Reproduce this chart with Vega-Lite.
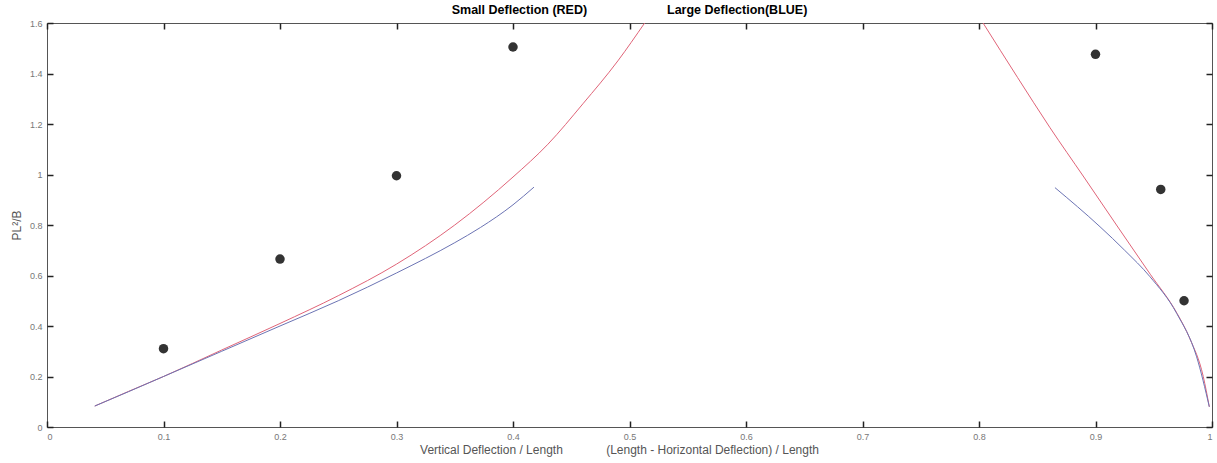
{
  "$schema": "https://vega.github.io/schema/vega-lite/v6.json",
  "width": 1165,
  "height": 404,
  "autosize": {"type": "none"},
  "padding": {"left": 47, "top": 23, "right": 5, "bottom": 36},
  "background": "white",
  "config": {
    "font": "Liberation Sans",
    "view": {"stroke": "#555", "strokeWidth": 1},
    "axis": {
      "grid": false,
      "domain": false,
      "ticks": true,
      "tickColor": "#222",
      "tickOpacity": 1,
      "tickWidth": 1.5,
      "tickSize": 6,
      "offset": -6,
      "labelPadding": 5,
      "labelColor": "#777",
      "labelFontSize": 9,
      "labelFont": "Liberation Sans",
      "titleFont": "Liberation Sans",
      "titleFontSize": 12,
      "titleFontWeight": "normal",
      "titleColor": "#555"
    }
  },
  "title": {
    "text": "Small Deflection (RED)\u00a0\u00a0\u00a0\u00a0\u00a0\u00a0\u00a0\u00a0\u00a0\u00a0\u00a0\u00a0\u00a0\u00a0\u00a0\u00a0\u00a0\u00a0\u00a0\u00a0\u00a0\u00a0\u00a0Large Deflection(BLUE)",
    "fontSize": 12.5,
    "fontWeight": "bold",
    "color": "black",
    "font": "Liberation Sans",
    "offset": 3,
    "anchor": "middle"
  },
  "datasets": {
    "curves": [
      {"curve": "S1", "model": "Small", "x": 0.041, "y": 0.083},
      {"curve": "S1", "model": "Small", "x": 0.07, "y": 0.141},
      {"curve": "S1", "model": "Small", "x": 0.1, "y": 0.2},
      {"curve": "S1", "model": "Small", "x": 0.15, "y": 0.305},
      {"curve": "S1", "model": "Small", "x": 0.2, "y": 0.41},
      {"curve": "S1", "model": "Small", "x": 0.25, "y": 0.52},
      {"curve": "S1", "model": "Small", "x": 0.3, "y": 0.645},
      {"curve": "S1", "model": "Small", "x": 0.35, "y": 0.8},
      {"curve": "S1", "model": "Small", "x": 0.4, "y": 0.99},
      {"curve": "S1", "model": "Small", "x": 0.43, "y": 1.12},
      {"curve": "S1", "model": "Small", "x": 0.46, "y": 1.28},
      {"curve": "S1", "model": "Small", "x": 0.49, "y": 1.45},
      {"curve": "S1", "model": "Small", "x": 0.513, "y": 1.6},
      {"curve": "L1", "model": "Large", "x": 0.041, "y": 0.083},
      {"curve": "L1", "model": "Large", "x": 0.07, "y": 0.14},
      {"curve": "L1", "model": "Large", "x": 0.1, "y": 0.2},
      {"curve": "L1", "model": "Large", "x": 0.15, "y": 0.3},
      {"curve": "L1", "model": "Large", "x": 0.2, "y": 0.4},
      {"curve": "L1", "model": "Large", "x": 0.25, "y": 0.5},
      {"curve": "L1", "model": "Large", "x": 0.3, "y": 0.61},
      {"curve": "L1", "model": "Large", "x": 0.35, "y": 0.73},
      {"curve": "L1", "model": "Large", "x": 0.372, "y": 0.79},
      {"curve": "L1", "model": "Large", "x": 0.4, "y": 0.88},
      {"curve": "L1", "model": "Large", "x": 0.418, "y": 0.95},
      {"curve": "S2", "model": "Small", "x": 0.8035, "y": 1.6},
      {"curve": "S2", "model": "Small", "x": 0.833, "y": 1.385},
      {"curve": "S2", "model": "Small", "x": 0.861, "y": 1.185},
      {"curve": "S2", "model": "Small", "x": 0.89, "y": 0.99},
      {"curve": "S2", "model": "Small", "x": 0.918, "y": 0.8},
      {"curve": "S2", "model": "Small", "x": 0.947, "y": 0.605},
      {"curve": "S2", "model": "Small", "x": 0.97, "y": 0.45},
      {"curve": "S2", "model": "Small", "x": 0.981, "y": 0.35},
      {"curve": "S2", "model": "Small", "x": 0.9925, "y": 0.2},
      {"curve": "S2", "model": "Small", "x": 0.9977, "y": 0.08},
      {"curve": "L2", "model": "Large", "x": 0.8652, "y": 0.948},
      {"curve": "L2", "model": "Large", "x": 0.9039, "y": 0.793},
      {"curve": "L2", "model": "Large", "x": 0.925, "y": 0.7},
      {"curve": "L2", "model": "Large", "x": 0.9468, "y": 0.595},
      {"curve": "L2", "model": "Large", "x": 0.9697, "y": 0.45},
      {"curve": "L2", "model": "Large", "x": 0.9868, "y": 0.278},
      {"curve": "L2", "model": "Large", "x": 0.9977, "y": 0.08}
    ],
    "points": [
      {"x": 0.1, "y": 0.31},
      {"x": 0.2, "y": 0.665},
      {"x": 0.3, "y": 0.995},
      {"x": 0.4, "y": 1.505},
      {"x": 0.9, "y": 1.476},
      {"x": 0.956, "y": 0.941},
      {"x": 0.976, "y": 0.5}
    ]
  },
  "layer": [
    {
      "data": {"name": "curves"},
      "mark": {"type": "line", "strokeWidth": 1, "clip": true, "interpolate": "monotone"},
      "encoding": {
        "x": {
          "field": "x",
          "type": "quantitative",
          "scale": {"domain": [0, 1], "nice": false, "zero": false},
          "axis": {
            "values": [0, 0.1, 0.2, 0.3, 0.4, 0.5, 0.6, 0.7, 0.8, 0.9, 1],
            "format": "~g",
            "ticks": true,
            "title": "Vertical Deflection / Length\u00a0\u00a0\u00a0\u00a0\u00a0\u00a0\u00a0\u00a0\u00a0\u00a0\u00a0\u00a0\u00a0(Length - Horizontal Deflection) / Length",
            "titleX": 572,
            "titleAnchor": "middle",
            "titlePadding": 3
          }
        },
        "y": {
          "field": "y",
          "type": "quantitative",
          "scale": {"domain": [0, 1.6], "nice": false},
          "axis": {
            "values": [0, 0.2, 0.4, 0.6, 0.8, 1, 1.2, 1.4, 1.6],
            "format": "~g",
            "ticks": true,
            "title": "PL²/B",
            "titlePadding": 6
          }
        },
        "color": {
          "field": "model",
          "type": "nominal",
          "scale": {"domain": ["Small", "Large"], "range": ["#e06478", "#6c74b4"]},
          "legend": null
        },
        "detail": {"field": "curve"}
      }
    },
    {
      "data": {"name": "points"},
      "mark": {"type": "circle", "size": 90, "color": "#333", "opacity": 1},
      "encoding": {
        "x": {
          "field": "x",
          "type": "quantitative",
          "axis": {"values": [0, 0.1, 0.2, 0.3, 0.4, 0.5, 0.6, 0.7, 0.8, 0.9, 1], "ticks": true, "labels": false, "title": null}
        },
        "y": {
          "field": "y",
          "type": "quantitative",
          "axis": {"values": [0, 0.2, 0.4, 0.6, 0.8, 1, 1.2, 1.4, 1.6], "ticks": true, "labels": false, "title": null}
        }
      }
    }
  ],
  "resolve": {"axis": {"x": "independent", "y": "independent"}}
}
